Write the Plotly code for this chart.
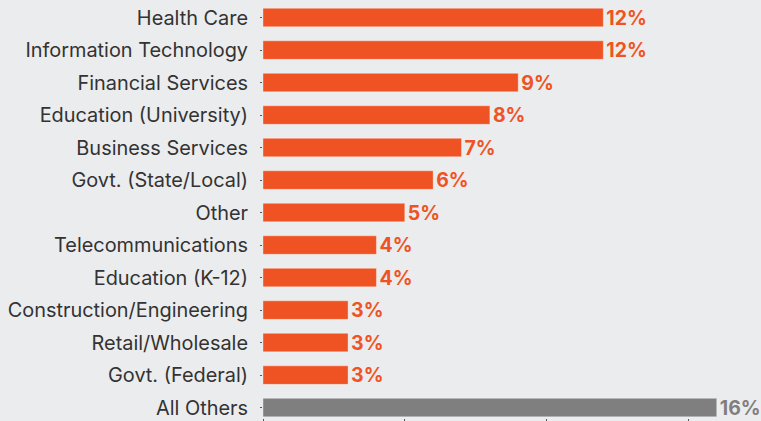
import plotly.graph_objects as go

categories = ["Health Care", "Information Technology", "Financial Services",
              "Education (University)", "Business Services", "Govt. (State/Local)",
              "Other", "Telecommunications", "Education (K-12)",
              "Construction/Engineering", "Retail/Wholesale", "Govt. (Federal)",
              "All Others"]
values = [12, 12, 9, 8, 7, 6, 5, 4, 4, 3, 3, 3, 16]

ORANGE = "#f05323"
GRAY = "#7f7f7f"
colors = [GRAY if c == "All Others" else ORANGE for c in categories]

fig = go.Figure(go.Bar(
    x=values,
    y=categories,
    orientation="h",
    marker=dict(color=colors, line=dict(color="rgba(255,255,255,0.35)", width=1)),
    text=[f"{v}%" for v in values],
    textposition="outside",
    constraintext="none",
    textfont=dict(family="Inter, sans-serif", size=19.5, color=colors, weight="bold"),
    cliponaxis=False,
    width=0.57,
))

fig.update_layout(
    width=761, height=421,
    margin=dict(l=263, r=0, t=0, b=3),
    paper_bgcolor="#ebecee",
    plot_bgcolor="#ebecee",
    font=dict(family="Inter, sans-serif", size=19.9, color="#333333"),
    showlegend=False,
    bargap=0.43,
)
fig.update_xaxes(
    range=[0, 17.56],
    tickvals=[0, 5, 10, 15],
    showticklabels=False,
    ticks="outside", ticklen=3, tickcolor="#555555", tickwidth=1,
    showgrid=False, zeroline=False, showline=False,
)
fig.update_yaxes(
    categoryorder="array", categoryarray=categories,
    range=[12.32, -0.54],
    ticks="outside", ticklen=2, tickcolor="#555555",
    showgrid=False, zeroline=False, showline=False,
    ticklabelstandoff=8,
)

fig.write_html("out.html")
